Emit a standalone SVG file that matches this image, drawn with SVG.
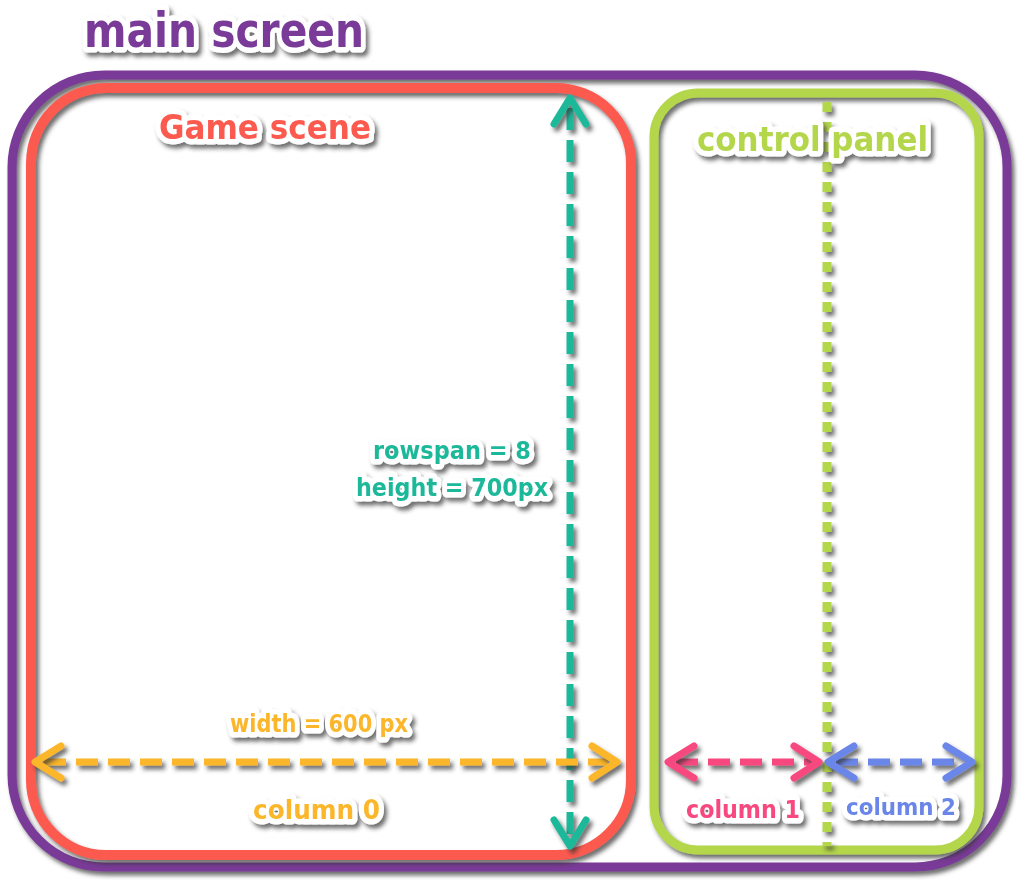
<svg xmlns="http://www.w3.org/2000/svg" width="1018" height="892" viewBox="0 0 1018 892">
<defs>
<filter id="sh" filterUnits="userSpaceOnUse" x="0" y="0" width="1018" height="892">
<feDropShadow dx="3" dy="4" stdDeviation="2" flood-color="#333" flood-opacity="0.7"/>
</filter>
<style>
.box{fill:none;filter:url(#sh)}
.t{font-family:"DejaVu Sans","Liberation Sans",sans-serif;font-weight:bold;stroke:#fff;stroke-width:11;stroke-linejoin:round;paint-order:stroke;filter:url(#sh)}
.ln{fill:none;filter:url(#sh);stroke-linejoin:round;stroke-linecap:round}
.dash{stroke-width:7;stroke-dasharray:22 10;stroke-linecap:butt}
.dot{fill:none;filter:url(#sh);stroke:#b4d64c;stroke-width:9;stroke-dasharray:10 10;stroke-linecap:butt}
</style>
</defs>
<rect width="1018" height="892" fill="#fff"/>
<g id="main-screen">
<rect class="box" x="12" y="75" width="995" height="792" rx="92" stroke="#7a3a98" stroke-width="9"/>
<text class="t" x="84" y="47" font-size="48" fill="#7a3a98" textLength="280" lengthAdjust="spacingAndGlyphs">main screen</text>
</g>
<g id="game-scene">
<rect class="box" x="31" y="88" width="600" height="767" rx="75" stroke="#fc5a50" stroke-width="10"/>
<text class="t" x="159" y="139" font-size="33" fill="#fc5a50" textLength="212" lengthAdjust="spacingAndGlyphs">Game scene</text>
</g>
<g id="control-panel">
<rect class="box" x="654" y="93" width="325" height="757" rx="44" stroke="#b4d64c" stroke-width="9"/>
</g>
<g id="connectors">
<line class="dot" x1="827" y1="102" x2="827" y2="846"/>
<g stroke="#1fb89a">
<line class="ln dash" x1="570" y1="108" x2="570" y2="838"/>
<polyline class="ln" points="554,124 570,98 586,124" stroke-width="7"/>
<polyline class="ln" points="554,820 570,846 586,820" stroke-width="7"/>
</g>
<g stroke="#fbb62c">
<line class="ln dash" x1="44" y1="762" x2="608" y2="762"/>
<polyline class="ln" points="61,746 35,762 61,778" stroke-width="7"/>
<polyline class="ln" points="592,746 617,762 592,778" stroke-width="7"/>
</g>
<g stroke="#f7487f">
<line class="ln dash" x1="676" y1="762" x2="812" y2="762"/>
<polyline class="ln" points="694,746 668,762 694,778" stroke-width="7"/>
<polyline class="ln" points="794,746 819,762 794,778" stroke-width="7"/>
</g>
<g stroke="#6b86e8">
<line class="ln dash" x1="836" y1="762" x2="964" y2="762"/>
<polyline class="ln" points="854,746 828,762 854,778" stroke-width="7"/>
<polyline class="ln" points="946,746 972,762 946,778" stroke-width="7"/>
</g>
</g>
<g id="labels">
<text class="t" x="697" y="151" font-size="33" fill="#b4d64c" textLength="231" lengthAdjust="spacingAndGlyphs">control panel</text>
<text class="t" x="452" y="459" font-size="25" fill="#1fb89a" text-anchor="middle" textLength="158" lengthAdjust="spacingAndGlyphs">rowspan = 8</text>
<text class="t" x="452" y="496" font-size="25" fill="#1fb89a" text-anchor="middle" textLength="192" lengthAdjust="spacingAndGlyphs">height = 700px</text>
<text class="t" x="230" y="732" font-size="24" fill="#fbb62c" textLength="178" lengthAdjust="spacingAndGlyphs">width = 600 px</text>
<text class="t" x="253" y="819" font-size="26" fill="#fbb62c" textLength="127" lengthAdjust="spacingAndGlyphs">column 0</text>
<text class="t" x="686" y="818" font-size="24" fill="#f7487f" textLength="114" lengthAdjust="spacingAndGlyphs">column 1</text>
<text class="t" x="846" y="815" font-size="23" fill="#6b86e8" textLength="110" lengthAdjust="spacingAndGlyphs">column 2</text>
</g>
</svg>
